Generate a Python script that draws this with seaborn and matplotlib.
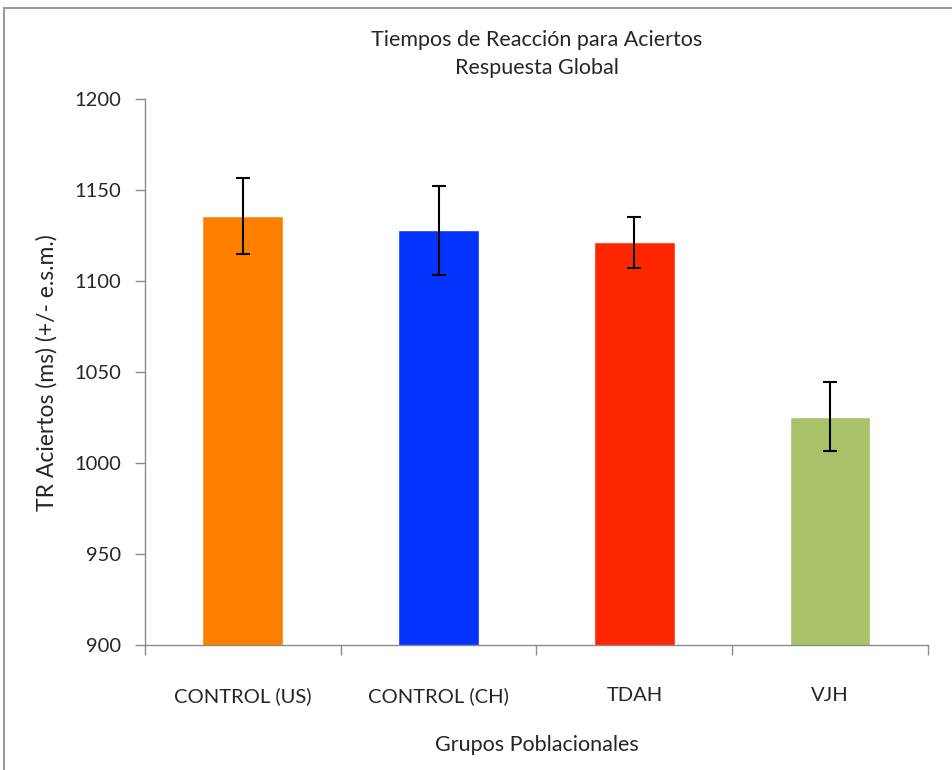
import numpy as np
import pandas as pd
import seaborn as sns
import matplotlib.pyplot as plt
from matplotlib.patches import Rectangle

grupos = ['CONTROL (US)', 'CONTROL (CH)', 'TDAH', 'VJH']
tr_medio = [1136, 1128, 1121.5, 1025.5]
esm = [21, 24.5, 14, 19]
colores = ['#FF7F00', '#0533FF', '#FF2600', '#A9C26A']

df = pd.DataFrame({'grupo': grupos, 'tr': tr_medio})

sns.set_style('white')
plt.rcParams['font.family'] = ['Lato', 'DejaVu Sans']

fig = plt.figure(figsize=(9.52, 7.7), dpi=100)
ax = fig.add_axes([0.152, 0.162, 0.823, 0.709])

sns.barplot(data=df, x='grupo', y='tr', hue='grupo', palette=colores,
            legend=False, width=0.41, saturation=1, ax=ax)
ax.errorbar(x=np.arange(len(grupos)), y=tr_medio, yerr=esm, fmt='none',
            ecolor='black', elinewidth=1.5, capsize=5, capthick=1.5)

ax.set_ylim(900, 1200)
ax.set_xlim(-0.5, 3.5)
ax.set_yticks([900, 950, 1000, 1050, 1100, 1150, 1200])
ax.set_xticks(np.arange(-0.5, 4, 1), minor=True)
ax.tick_params(axis='x', which='major', bottom=True, length=0, pad=30, labelsize=14.5)
ax.tick_params(axis='x', which='minor', bottom=True, length=7, width=1, color='#8a8a8a', direction='out')
ax.tick_params(axis='y', left=True, length=7, width=1, color='#8a8a8a', direction='out', pad=10, labelsize=14.5)

for s in ['top', 'right']:
    ax.spines[s].set_visible(False)
for s in ['left', 'bottom']:
    ax.spines[s].set_color('#8a8a8a')
    ax.spines[s].set_linewidth(1)

ax.set_xlabel('Grupos Poblacionales', fontsize=15.5, labelpad=22)
ax.set_ylabel('TR Aciertos (ms) (+/- e.s.m.)', fontsize=16.5, labelpad=12)
ax.set_title('Tiempos de Reacción para Aciertos\nRespuesta Global', fontsize=15.5,
             linespacing=1.55, pad=18)

fig.patches.append(Rectangle((0.004, -0.02), 1.02, 1.01, transform=fig.transFigure,
                             fill=False, edgecolor='#9a9a9a', linewidth=1.5))

fig.savefig('out.png', dpi=100)
